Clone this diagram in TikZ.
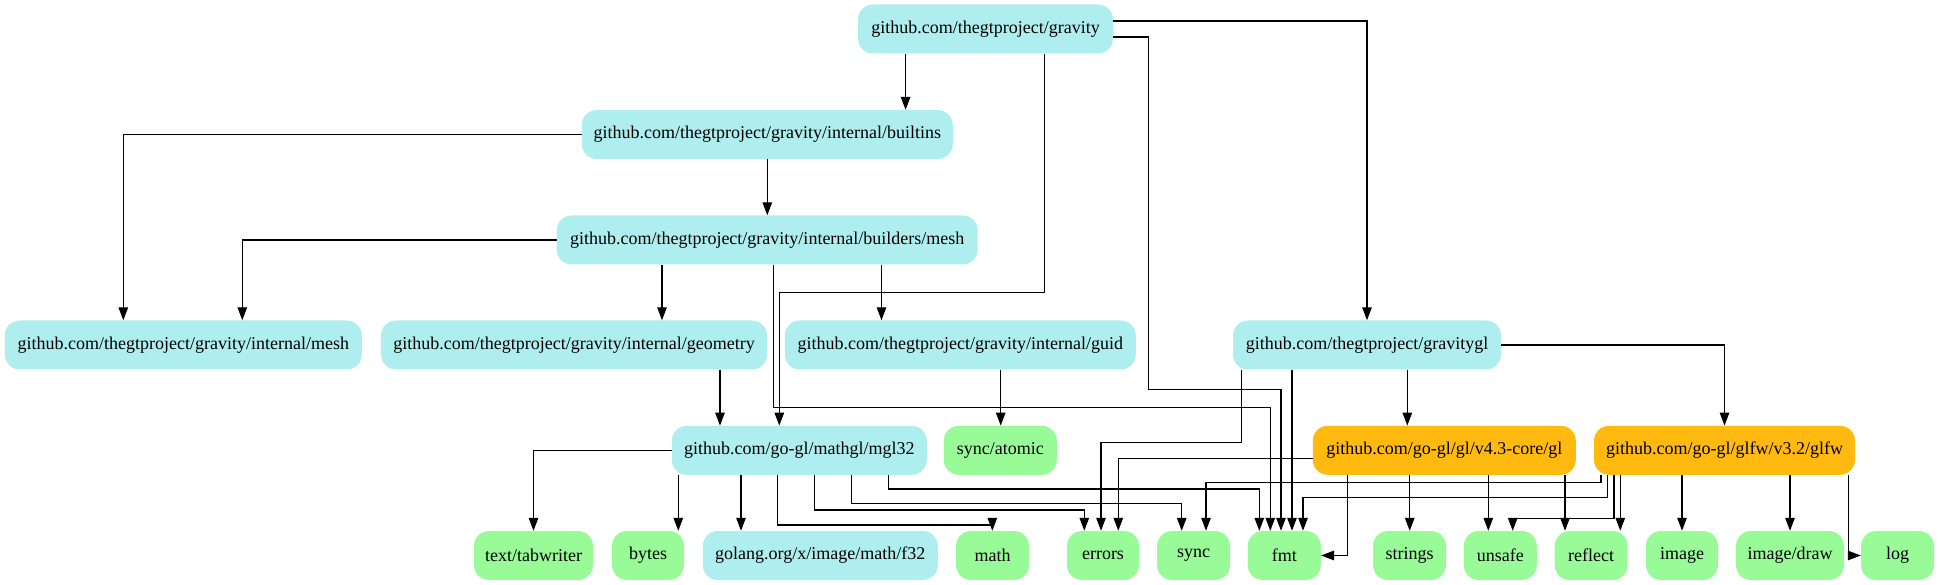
\documentclass[tikz,border=0pt]{standalone}
\usepackage{fontspec}
\setmainfont{Liberation Serif}
\usetikzlibrary{arrows.meta}
\definecolor{paleturq}{HTML}{AFEEEE}
\definecolor{palegr}{HTML}{98FB98}
\definecolor{goldorange}{HTML}{FFB90F}
\begin{document}
\begin{tikzpicture}[x=1pt,y=-1pt,
  pkg/.style={rounded corners=15pt, minimum height=49pt, inner sep=0pt, font=\fontsize{18}{21}\selectfont},
  cyanpkg/.style={pkg, fill=paleturq},
  greenpkg/.style={pkg, fill=palegr},
  orangepkg/.style={pkg, fill=goldorange},
  arr/.style={draw=black, line width=1.2pt, -{Triangle[length=13pt,width=9.5pt]}}]
\useasboundingbox (0,0) rectangle (1939,585);
% row 1-3
\node[cyanpkg, minimum width=255pt] (gravity) at (985.5,29) {github.com/thegtproject/gravity};
\node[cyanpkg, minimum width=371pt] (builtins) at (767.3,134.5) {github.com/thegtproject/gravity/internal/builtins};
\node[cyanpkg, minimum width=421pt] (bmesh) at (767.2,240) {github.com/thegtproject/gravity/internal/builders/mesh};
% row 4
\node[cyanpkg, minimum width=357pt] (mesh) at (183.3,345) {github.com/thegtproject/gravity/internal/mesh};
\node[cyanpkg, minimum width=386pt] (geometry) at (574,345) {github.com/thegtproject/gravity/internal/geometry};
\node[cyanpkg, minimum width=351pt] (guid) at (960.3,345) {github.com/thegtproject/gravity/internal/guid};
\node[cyanpkg, minimum width=268pt] (gravitygl) at (1367,345) {github.com/thegtproject/gravitygl};
% row 5
\node[cyanpkg, minimum width=255pt] (mgl32) at (799.3,450.3) {github.com/go-gl/mathgl/mgl32};
\node[greenpkg, minimum width=113pt] (atomic) at (1000.3,450.3) {sync/atomic};
\node[orangepkg, minimum width=263pt] (gl) at (1444.3,450.3) {github.com/go-gl/gl/v4.3-core/gl};
\node[orangepkg, minimum width=261pt] (glfw) at (1724.5,450.3) {github.com/go-gl/glfw/v3.2/glfw};
% row 6
\node[greenpkg, minimum width=119pt] (tabwriter) at (533.5,555.5) {text/tabwriter};
\node[greenpkg, minimum width=72pt] (bytes) at (648,555.5) {bytes};
\node[cyanpkg, minimum width=235pt] (f32) at (820.3,555.5) {golang.org/x/image/math/f32};
\node[greenpkg, minimum width=73pt] (math) at (992.5,555.5) {math};
\node[greenpkg, minimum width=72pt] (errors) at (1103,555.5) {errors};
\node[greenpkg, minimum width=73pt] (sync) at (1193.5,555.5) {sync};
\node[greenpkg, minimum width=73pt] (fmt) at (1284.3,555.5) {fmt};
\node[greenpkg, minimum width=73pt] (strings) at (1409.5,555.5) {strings};
\node[greenpkg, minimum width=73pt] (unsafe) at (1500.3,555.5) {unsafe};
\node[greenpkg, minimum width=73pt] (reflect) at (1591.2,555.5) {reflect};
\node[greenpkg, minimum width=72pt] (image) at (1682,555.5) {image};
\node[greenpkg, minimum width=108pt] (imagedraw) at (1790,555.5) {image/draw};
\node[greenpkg, minimum width=73pt] (log) at (1897.5,555.5) {log};
% edges from gravity
\draw[arr] (905.6,0 |- gravity.south) -- (905.6,0 |- builtins.north);
\draw[arr] (1044.5,0 |- gravity.south) -- (1044.5,292.7) -- (779.3,292.7) -- (779.3,0 |- mgl32.north);
\draw[arr] (gravity.east |- 0,37) -- (1148.5,37) -- (1148.5,389.3) -- (1281,389.3) -- (1281,0 |- fmt.north);
\draw[arr] (gravity.east |- 0,21) -- (1367,21) -- (1367,0 |- gravitygl.north);
% builtins
\draw[arr] (builtins.west) -- (123.3,0 |- builtins.west) -- (123.3,0 |- mesh.north);
\draw[arr] (767.3,0 |- builtins.south) -- (767.3,0 |- bmesh.north);
% builders/mesh
\draw[arr] (bmesh.west) -- (242.3,0 |- bmesh.west) -- (242.3,0 |- mesh.north);
\draw[arr] (662,0 |- bmesh.south) -- (662,0 |- geometry.north);
\draw[arr] (881.5,0 |- bmesh.south) -- (881.5,0 |- guid.north);
\draw[arr] (773.3,0 |- bmesh.south) -- (773.3,407.7) -- (1270.3,407.7) -- (1270.3,0 |- fmt.north);
% geometry, guid
\draw[arr] (720,0 |- geometry.south) -- (720,0 |- mgl32.north);
\draw[arr] (1000.7,0 |- guid.south) -- (1000.7,0 |- atomic.north);
% gravitygl
\draw[arr] (1407.3,0 |- gravitygl.south) -- (1407.3,0 |- gl.north);
\draw[arr] (gravitygl.east) -- (glfw.north |- gravitygl.east) -- (glfw.north);
\draw[arr] (1241.3,0 |- gravitygl.south) -- (1241.3,442.5) -- (1101,442.5) -- (1101,0 |- errors.north);
\draw[arr] (1292,0 |- gravitygl.south) -- (1292,0 |- fmt.north);
% gl
\draw[arr] (gl.west |- 0,458.3) -- (1118.3,458.3) -- (1118.3,0 |- errors.north);
\draw[arr] (1347.3,0 |- gl.south) -- (1347.3,0 |- fmt.east) -- (fmt.east);
\draw[arr] (1409.7,0 |- gl.south) -- (1409.7,0 |- strings.north);
\draw[arr] (1488.3,0 |- gl.south) -- (1488.3,0 |- unsafe.north);
\draw[arr] (1565,0 |- gl.south) -- (1565,0 |- reflect.north);
% glfw
\draw[arr] (1601,0 |- glfw.south) -- (1601,482.3) -- (1206,482.3) -- (1206,0 |- sync.north);
\draw[arr] (1607.7,0 |- glfw.south) -- (1607.7,497.5) -- (1303,497.5) -- (1303,0 |- fmt.north);
\draw[arr] (1614,0 |- glfw.south) -- (1614,518.3) -- (1512.7,518.3) -- (1512.7,0 |- unsafe.north);
\draw[arr] (1620.3,0 |- glfw.south) -- (1620.3,0 |- reflect.north);
\draw[arr] (1682,0 |- glfw.south) -- (1682,0 |- image.north);
\draw[arr] (1790,0 |- glfw.south) -- (1790,0 |- imagedraw.north);
\draw[arr] (1848.7,0 |- glfw.south) -- (1848.7,0 |- log.west) -- (log.west);
% mgl32
\draw[arr] (mgl32.west) -- (tabwriter.north |- mgl32.west) -- (tabwriter.north);
\draw[arr] (678.3,0 |- mgl32.south) -- (678.3,0 |- bytes.north);
\draw[arr] (741,0 |- mgl32.south) -- (741,0 |- f32.north);
\draw[arr] (777.7,0 |- mgl32.south) -- (777.7,525) -- (992.3,525) -- (992.3,0 |- math.north);
\draw[arr] (814.7,0 |- mgl32.south) -- (814.7,510) -- (1084.3,510) -- (1084.3,0 |- errors.north);
\draw[arr] (851.7,0 |- mgl32.south) -- (851.7,503.5) -- (1181.7,503.5) -- (1181.7,0 |- sync.north);
\draw[arr] (888.7,0 |- mgl32.south) -- (888.7,489) -- (1259.3,489) -- (1259.3,0 |- fmt.north);
\end{tikzpicture}
\end{document}
